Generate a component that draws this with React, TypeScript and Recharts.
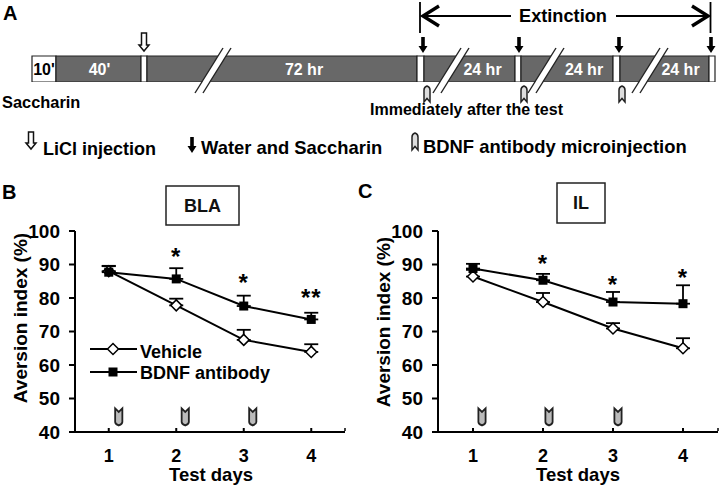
import React from 'react';
import { BarChart, Bar, LabelList, LineChart, Line, XAxis, YAxis, ErrorBar, Legend } from 'recharts';

const FONT = '"Liberation Sans", Arial, sans-serif';

// Panel A: timeline segments (drawn as one stacked bar)
const segmentNames = ['s0', 's1', 's2', 's3', 's4', 's5', 's6', 's7', 's8', 's9', 's10'];
const segmentSpans = [24, 85, 6, 270, 7, 91, 6, 92, 7, 89, 6];
const segmentFills = ['#fff', '#686868', '#fff', '#686868', '#fff', '#686868', '#fff', '#686868', '#fff', '#686868', '#fff'];
const segmentLabels = ["10'", "40'", '', '72 hr', '', '24 hr', '', '24 hr', '', '24 hr', ''];
const segmentLabelShift = [0, 1, 0, 22, 0, 13, 0, 17, 0, 16, 0];

const slashBaseX = [195, 433, 528, 632];
const licl = [144];
const waterX = [423, 519, 619, 711];
const antibodyX = [427, 524, 622];

// Panels B and C
const days = ['1', '2', '3', '4'];
const blaVehicle = [88, 77.8, 67.5, 63.9];
const blaVehicleErr = [1.5, 2, 3, 2.3];
const blaBdnf = [87.7, 85.7, 77.6, 73.6];
const blaBdnfErr = [1.9, 3.2, 3.1, 2];
const blaStars = [null, 93.6, 86.1, 81.6];
const blaStarText = ['', '*', '*', '**'];
const ilVehicle = [86.4, 78.8, 70.9, 65];
const ilVehicleErr = [2, 2.7, 1.6, 3];
const ilBdnf = [88.8, 85.3, 78.8, 78.3];
const ilBdnfErr = [1.4, 1.9, 3, 5.5];
const ilStars = [null, 91.5, 85.5, 87.5];
const ilStarText = ['', '*', '*', '*'];
const injectionLevel = [44.5, 44.5, 44.5, null];
const yTicks = [40, 50, 60, 70, 80, 90, 100];

const timelineRow: Record<string, number | string> = { name: 'timeline' };
segmentNames.forEach((n, i) => { timelineRow[n] = segmentSpans[i]; });
const timelineData = [timelineRow];

const makeRows = (veh: number[], vehE: number[], bd: number[], bdE: number[], stars: (number | null)[], text: string[]) =>
  days.map((day, i) => ({
    day,
    vehicle: veh[i],
    vehicleErr: [0, vehE[i]],
    bdnf: bd[i],
    bdnfErr: [0, bdE[i]],
    star: stars[i],
    starText: text[i],
    injection: injectionLevel[i],
  }));

const blaRows = makeRows(blaVehicle, blaVehicleErr, blaBdnf, blaBdnfErr, blaStars, blaStarText);
const ilRows = makeRows(ilVehicle, ilVehicleErr, ilBdnf, ilBdnfErr, ilStars, ilStarText);

const Diamond = ({ cx, cy }: any) =>
  cx == null ? null : <path d={`M${cx - 5.5} ${cy}L${cx} ${cy - 5.5}L${cx + 5.5} ${cy}L${cx} ${cy + 5.5}Z`} fill="#fff" stroke="#000" strokeWidth={1.5} />;
const Square = ({ cx, cy }: any) =>
  cx == null ? null : <rect x={cx - 4.5} y={cy - 4.5} width={9} height={9} fill="#000" />;

const bulletPath = (x: number, y: number, w: number, h: number) =>
  `M${x - w} ${y - h}L${x} ${y - h + 3.5}L${x + w} ${y - h}V${y + h - 3.5}Q${x + w} ${y + h - 1.5} ${x} ${y + h}Q${x - w} ${y + h - 1.5} ${x - w} ${y + h - 3.5}Z`;

const makeInjectionDot = (shifts: number[]) => ({ cx, cy, index }: any) =>
  cx == null || cy == null ? null : (
    <path d={bulletPath(cx + shifts[index], cy, 3.6, 8.5)} fill="#bbb" stroke="#222" strokeWidth={1.8} />
  );

const StarLabel = ({ x, y, index, rows }: any) =>
  x == null || y == null || !rows[index].starText ? null : (
    <text x={x} y={y + 13} textAnchor="middle" fontFamily={FONT} fontWeight={700} fontSize={24} letterSpacing={1} fill="#000">
      {rows[index].starText}
    </text>
  );

const LegendBlock = () => (
  <svg width={190} height={50} style={{ display: 'block' }}>
    <line x1={0} x2={47} y1={10} y2={10} stroke="#000" strokeWidth={2} />
    <Diamond cx={23} cy={10} />
    <text x={50} y={19} fontFamily={FONT} fontWeight={700} fontSize={18} fill="#000">Vehicle</text>
    <line x1={0} x2={47} y1={33} y2={33} stroke="#000" strokeWidth={2} />
    <Square cx={23} cy={33} />
    <text x={50} y={40} fontFamily={FONT} fontWeight={700} fontSize={18} fill="#000">BDNF antibody</text>
  </svg>
);

function Panel({ left, yAxisRight, plotRight, rows, title, box, shifts, labelX, labelY, xTitleX, legend, inset }: any) {
  const width = plotRight + 2;
  return (
    <div style={{ position: 'absolute', left, top: 175 }}>
      <LineChart width={width} height={311} data={rows} margin={{ top: 56, right: 2, bottom: 24, left: yAxisRight - 45 }}>
        <rect x={box[0]} y={box[1]} width={box[2]} height={box[3]} fill="#fff" stroke="#222" strokeWidth={1.5} />
        <text x={box[0] + box[2] / 2} y={box[1] + box[3] / 2 + 6} textAnchor="middle" fontFamily={FONT} fontWeight={700} fontSize={18} fill="#111">{title}</text>
        <XAxis
          dataKey="day"
          height={30}
          padding={{ left: inset, right: inset }}
          axisLine={{ stroke: '#000', strokeWidth: 2 }}
          tickLine={{ stroke: '#000', strokeWidth: 2 }}
          tickSize={-4}
          tickMargin={21}
          tick={{ fontFamily: FONT, fontWeight: 700, fontSize: 18, fill: '#000' }}
        />
        <YAxis
          width={45}
          domain={[40, 100]}
          ticks={yTicks}
          interval={0}
          axisLine={{ stroke: '#000', strokeWidth: 2 }}
          tickLine={{ stroke: '#000', strokeWidth: 2 }}
          tickSize={6}
          tickMargin={9}
          tick={{ fontFamily: FONT, fontWeight: 700, fontSize: 19, fill: '#000' }}
        />
        <line x1={plotRight} x2={plotRight} y1={253} y2={256} stroke="#000" strokeWidth={1.5} />
        <text transform={`translate(${labelX},${labelY}) rotate(-90)`} textAnchor="middle" dominantBaseline="central" fontFamily={FONT} fontWeight={700} fontSize={19} fill="#000">Aversion index (%)</text>
        <text x={xTitleX} y={306} textAnchor="middle" fontFamily={FONT} fontWeight={700} fontSize={18.5} fill="#000">Test days</text>
        <Line dataKey="vehicle" stroke="#000" strokeWidth={2} dot={<Diamond />} isAnimationActive={false}>
          <ErrorBar dataKey="vehicleErr" direction="y" width={7} stroke="#000" strokeWidth={1.8} isAnimationActive={false} />
        </Line>
        <Line dataKey="bdnf" stroke="#000" strokeWidth={2} dot={<Square />} isAnimationActive={false}>
          <ErrorBar dataKey="bdnfErr" direction="y" width={7} stroke="#000" strokeWidth={1.8} isAnimationActive={false} />
        </Line>
        <Line dataKey="star" stroke="none" dot={false} label={(p: any) => <StarLabel {...p} rows={rows} />} isAnimationActive={false} />
        <Line dataKey="injection" stroke="none" dot={makeInjectionDot(shifts)} isAnimationActive={false} />
        {legend ? (
          <Legend layout="horizontal" verticalAlign="middle" align="center" wrapperStyle={{ left: 90, top: 164, width: 190, height: 50 }} content={() => <LegendBlock />} />
        ) : null}
      </LineChart>
    </div>
  );
}

const Hollow = ({ x, y1, y2 }: any) => (
  <path d={`M${x - 2.5} ${y1}H${x + 2.5}V${y2 - 6}H${x + 5}L${x} ${y2}L${x - 5} ${y2 - 6}H${x - 2.5}Z`} fill="#fff" stroke="#111" strokeWidth={1.5} />
);
const Solid = ({ x, y1, y2 }: any) => (
  <path d={`M${x - 1.8} ${y1}H${x + 1.8}V${y2 - 7}H${x + 4.5}L${x} ${y2}L${x - 4.5} ${y2 - 7}H${x - 1.8}Z`} fill="#000" />
);
const Bullet = ({ x, y1, y2 }: any) => (
  <path d={`M${x - 3} ${y2}V${y1 + 4}Q${x - 3} ${y1 + 1} ${x} ${y1}Q${x + 3} ${y1 + 1} ${x + 3} ${y1 + 4}V${y2}L${x} ${y2 - 3.5}Z`} fill="#ddd" stroke="#222" strokeWidth={1.5} />
);

const tText = (x: number, y: number, size: number, s: string) => (
  <text x={x} y={y} fontFamily={FONT} fontWeight={700} fontSize={size} fill="#000">{s}</text>
);

function Overlay() {
  return (
    <svg width={720} height={486} style={{ position: 'absolute', left: 0, top: 0, pointerEvents: 'none' }}>
      {slashBaseX.map((x) => (
        <g key={x}>
          <path d={`M${x} 93L${x + 28} 48L${x + 36} 48L${x + 8} 93Z`} fill="#fff" />
          <line x1={x} y1={93} x2={x + 28} y2={48} stroke="#222" strokeWidth={1.4} />
          <line x1={x + 8} y1={93} x2={x + 36} y2={48} stroke="#222" strokeWidth={1.4} />
        </g>
      ))}
      {licl.map((x) => <Hollow key={x} x={x} y1={33} y2={51} />)}
      {waterX.map((x) => <Solid key={x} x={x} y1={37} y2={53} />)}
      {antibodyX.map((x) => <Bullet key={x} x={x} y1={86} y2={102} />)}
      <line x1={420} x2={420} y1={2} y2={33} stroke="#000" strokeWidth={1.8} />
      <line x1={710.5} x2={710.5} y1={2} y2={33} stroke="#000" strokeWidth={1.8} />
      <line x1={422} x2={511} y1={16} y2={16} stroke="#000" strokeWidth={1.8} />
      <line x1={616} x2={708} y1={16} y2={16} stroke="#000" strokeWidth={1.8} />
      <path d="M439 6L423 16L439 26" fill="none" stroke="#000" strokeWidth={3.4} />
      <path d="M692 6L708 16L692 26" fill="none" stroke="#000" strokeWidth={3.4} />
      {tText(519, 22, 18.2, 'Extinction')}
      {tText(3, 20, 20, 'A')}
      {tText(2, 108, 16.4, 'Saccharin')}
      {tText(370, 115, 16, 'Immediately after the test')}
      <Hollow x={31} y1={132} y2={149} />
      {tText(43, 155, 18, 'LiCl injection')}
      <Solid x={192} y1={137} y2={153} />
      {tText(201, 154, 18.4, 'Water and Saccharin')}
      <Bullet x={415} y1={133} y2={150} />
      {tText(423, 153, 18.4, 'BDNF antibody microinjection')}
      {tText(2, 199, 20, 'B')}
      {tText(358, 198, 20, 'C')}
    </svg>
  );
}

export default function App() {
  return (
    <div style={{ position: 'absolute', left: 0, top: 0, width: 720, height: 486, background: '#fff', overflow: 'hidden' }}>
      <div style={{ position: 'absolute', left: 0, top: 0 }}>
        <BarChart width={720} height={82} data={timelineData} layout="vertical" barCategoryGap={0} margin={{ top: 56, right: 5, bottom: 0, left: 32 }}>
          <XAxis type="number" hide domain={[0, segmentSpans.reduce((a, b) => a + b, 0)]} />
          <YAxis type="category" dataKey="name" hide />
          {segmentNames.map((n, i) => (
            <Bar key={n} dataKey={n} stackId="t" fill={segmentFills[i]} stroke="#222" strokeWidth={1.2} isAnimationActive={false}>
              <LabelList
                dataKey={n}
                content={(p: any) => (
                  <text x={p.x + p.width / 2 + segmentLabelShift[i]} y={p.y + p.height / 2 + 6} textAnchor="middle" fontFamily={FONT} fontWeight={700} fontSize={16} fill={i === 0 ? '#000' : '#fff'}>
                    {segmentLabels[i]}
                  </text>
                )}
              />
            </Bar>
          ))}
        </BarChart>
      </div>
      <Overlay />
      <Panel left={0} yAxisRight={75} plotRight={345} rows={blaRows} title="BLA" box={[166, 11, 73, 39]} shifts={[10, 9, 9, 0]} labelX={20} labelY={143} xTitleX={211} legend inset={33.75} />
      <Panel left={360} yAxisRight={78} plotRight={358} rows={ilRows} title="IL" box={[197, 8, 48, 40]} shifts={[9, 6, 5, 0]} labelX={23} labelY={147} xTitleX={218} inset={35} />
    </div>
  );
}
